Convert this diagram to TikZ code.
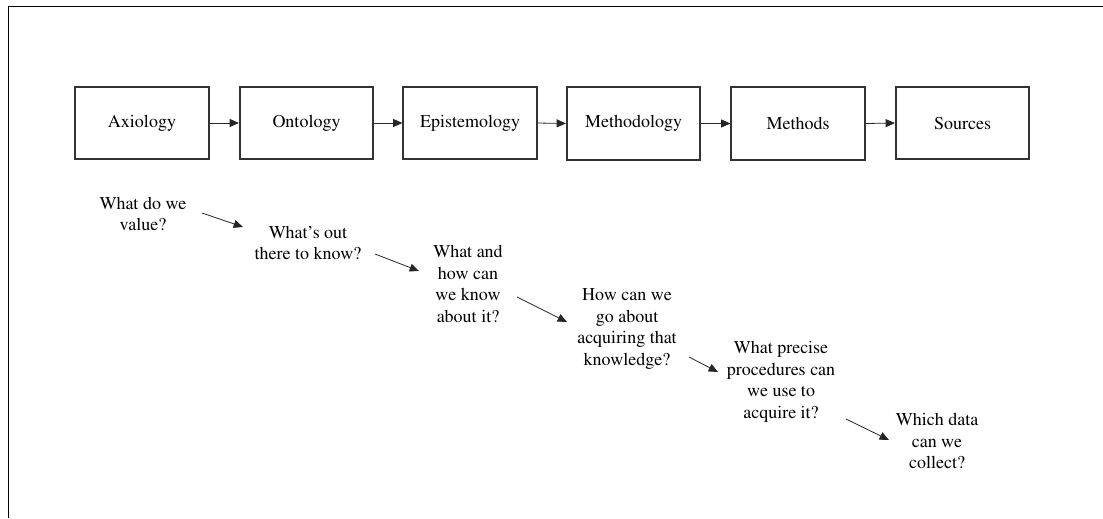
\documentclass[tikz,border=0pt]{standalone}
\usepackage[T1]{fontenc}
\usepackage{mathptmx}
\usetikzlibrary{arrows.meta}
\begin{document}
\begin{tikzpicture}[x=0.75pt,y=-0.75pt,
  stagebox/.style={draw=black!80,line width=1.3pt,minimum width=100pt,minimum height=54.5pt,inner sep=0pt,font=\fontsize{13.5}{16}\selectfont},
  question/.style={align=center,inner sep=1pt,font=\fontsize{13.5}{16.1}\selectfont},
  link/.style={draw=black!85,line width=0.6pt,-{Triangle[length=7pt,width=6pt]}}]
\useasboundingbox (0,0) rectangle (1103,518);
\draw[line width=1.2pt] (8.5,518) -- (8.5,6.5) -- (1103,6.5);
\node[stagebox] (ax) at (142,123) {Axiology};
\node[stagebox] (on) at (306.5,123) {Ontology};
\node[stagebox] (ep) at (470,123) {Epistemology};
\node[stagebox] (mt) at (633.5,123.5) {Methodology};
\node[stagebox] (me) at (798,123.5) {Methods};
\node[stagebox] (so) at (962.5,123) {Sources};
\foreach \a/\b in {ax/on,on/ep,ep/mt,mt/me,me/so}
  \draw[link] (\a.east) -- (\b.west);
\node[question] (q1) at (143,214) {What do we\\value?};
\node[question] (q2) at (308,243) {What's out\\there to know?};
\node[question] (q3) at (468,284) {What and\\how can\\we know\\about it?};
\node[question] (q4) at (627,329) {How can we\\go about\\acquiring that\\knowledge?};
\node[question] (q5) at (781,382) {What precise\\procedures can\\we use to\\acquire it?};
\node[question] (q6) at (937,441) {Which data\\can we\\collect?};
\coordinate (a1s) at (202,213); \coordinate (a1e) at (243,227);
\coordinate (a2s) at (375,254); \coordinate (a2e) at (419,271);
\coordinate (a3s) at (517,297); \coordinate (a3e) at (567,322);
\coordinate (a4s) at (689,357); \coordinate (a4e) at (718,372);
\coordinate (a5s) at (846,419); \coordinate (a5e) at (889,440);
\draw[link] (a1s) -- (a1e);
\draw[link] (a2s) -- (a2e);
\draw[link] (a3s) -- (a3e);
\draw[link] (a4s) -- (a4e);
\draw[link] (a5s) -- (a5e);
\end{tikzpicture}
\end{document}
